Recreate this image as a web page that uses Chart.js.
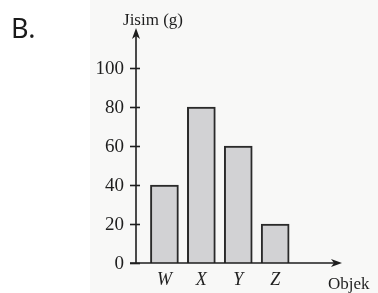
<!DOCTYPE html>
<html>
<head>
<meta charset="utf-8">
<script src="https://cdn.jsdelivr.net/npm/chart.js@4/dist/chart.umd.min.js"></script>
<style>
  html, body { margin: 0; padding: 0; background: #fff; }
  canvas { display: block; }
</style>
</head>
<body>
<canvas id="massChart" width="378" height="293"></canvas>
<script>
// Data
const categories = ['W', 'X', 'Y', 'Z'];
const masses = [40, 80, 60, 20];
const yTicks = [0, 20, 40, 60, 80, 100];
const yTitle = 'Jisim (g)';
const xTitle = 'Objek';
const panelLabel = 'B.';

const ink = '#1e1e1e';
const serif = '"Liberation Serif", "DejaVu Serif", serif';

// Draw the axes, arrows, ticks and texts the way the textbook figure does
const axesPlugin = {
    id: 'axesPlugin',
    beforeDraw(chart) {
        const ctx = chart.ctx;
        ctx.save();
        ctx.fillStyle = '#f8f8f7';
        ctx.fillRect(90, 0, chart.width - 90, chart.height);
        ctx.restore();
    },
    afterDraw(chart) {
        const ctx = chart.ctx;
        const area = chart.chartArea;
        const xScale = chart.scales.x;
        const yScale = chart.scales.y;
        const x0 = area.left;
        const y0 = yScale.getPixelForValue(0);

        ctx.save();
        ctx.strokeStyle = ink;
        ctx.fillStyle = ink;
        ctx.lineWidth = 1.6;

        // y axis
        ctx.beginPath();
        ctx.moveTo(x0, y0 + 1);
        ctx.lineTo(x0, area.top + 4);
        ctx.stroke();
        // x axis
        ctx.beginPath();
        ctx.moveTo(x0 - 6, y0);
        ctx.lineTo(area.right - 4, y0);
        ctx.stroke();

        // arrow heads
        ctx.beginPath();
        ctx.moveTo(x0, area.top);
        ctx.lineTo(x0 - 4, area.top + 11);
        ctx.lineTo(x0, area.top + 8);
        ctx.lineTo(x0 + 4, area.top + 11);
        ctx.closePath();
        ctx.fill();

        ctx.beginPath();
        ctx.moveTo(area.right, y0);
        ctx.lineTo(area.right - 11, y0 - 4);
        ctx.lineTo(area.right - 8, y0);
        ctx.lineTo(area.right - 11, y0 + 4);
        ctx.closePath();
        ctx.fill();

        // y ticks and labels
        ctx.font = '19px ' + serif;
        ctx.textAlign = 'right';
        ctx.textBaseline = 'middle';
        yTicks.forEach(v => {
            const py = Math.round(yScale.getPixelForValue(v)) + 0.5;
            ctx.beginPath();
            ctx.moveTo(x0 - 6, py);
            ctx.lineTo(x0 + 4, py);
            ctx.stroke();
            ctx.fillText(String(v), x0 - 12, py + 1);
        });

        // category labels
        ctx.font = 'italic 18px ' + serif;
        ctx.textAlign = 'center';
        categories.forEach((c, i) => {
            ctx.fillText(c, xScale.getPixelForValue(i + 1), y0 + 17);
        });

        // axis titles
        ctx.font = '17px ' + serif;
        ctx.textBaseline = 'alphabetic';
        ctx.fillText(yTitle, x0 + 17, 25);
        ctx.textAlign = 'left';
        ctx.fillText(xTitle, 328, 289);

        // panel label
        ctx.font = '27px "Noto Sans", sans-serif';
        ctx.fillStyle = '#1a1a1a';
        ctx.fillText(panelLabel, 11, 38);

        ctx.restore();
    }
};

const ctx = document.getElementById('massChart').getContext('2d');
new Chart(ctx, {
    type: 'bar',
    data: {
        datasets: [{
            data: categories.map((c, i) => ({ x: i + 1, y: masses[i] })),
            backgroundColor: '#d2d2d4',
            borderColor: '#2a2a2a',
            borderWidth: 2,
            barThickness: 28
        }]
    },
    options: {
        responsive: false,
        animation: false,
        devicePixelRatio: 1,
        layout: {
            padding: { left: 136, right: 36, top: 28, bottom: 30 }
        },
        scales: {
            x: { type: 'linear', display: false, offset: false, min: 0.23, max: 5.81 },
            y: { display: false, min: 0, max: 120.5 }
        },
        plugins: {
            legend: { display: false },
            tooltip: { enabled: false }
        }
    },
    plugins: [axesPlugin]
});
</script>
</body>
</html>
